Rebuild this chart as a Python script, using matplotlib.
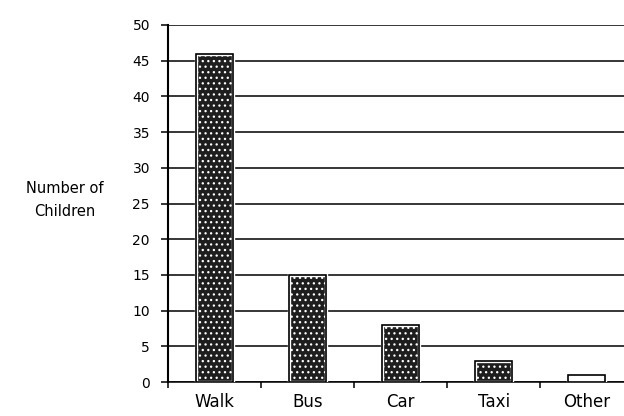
import matplotlib

matplotlib.use("Agg")
import matplotlib.pyplot as plt
import numpy as np

categories = ["Walk", "Bus", "Car", "Taxi", "Other"]
children = [46, 15, 8, 3, 1]
y_ticks = [0, 5, 10, 15, 20, 25, 30, 35, 40, 45, 50]

plt.rcParams["font.family"] = ["DejaVu Sans"]
plt.rcParams["hatch.linewidth"] = 0.9

fig = plt.figure(figsize=(6.24, 4.16), dpi=100)
ax = fig.add_axes([168 / 624, 34 / 416, 456 / 624, 357 / 416])

x = np.arange(len(categories))
# the tiny "Other" bar shows no speckle in the scan, just an empty box
faces = ["#1e1e1e"] * (len(categories) - 1) + ["white"]
# speckled fill with a thin white inner margin, then the black outline
ax.bar(x, children, width=0.4, color=faces, edgecolor="white",
       hatch="...", linewidth=2.4, zorder=3)
ax.bar(x, children, width=0.4, fill=False, edgecolor="black",
       linewidth=1.2, zorder=4)

ax.set_ylim(0, 50)
ax.set_xlim(-0.5, 4.4)
ax.set_yticks(y_ticks)
ax.set_yticklabels([str(v) for v in y_ticks], fontsize=10)
ax.yaxis.grid(True, color="black", linewidth=1.1)
ax.set_axisbelow(True)
ax.tick_params(axis="y", length=5, width=1.1, pad=8)

ax.set_xticks(x)
ax.set_xticklabels(categories, fontsize=12)
ax.set_xticks(np.arange(len(categories)) - 0.5, minor=True)
ax.tick_params(axis="x", which="major", length=0, pad=8)
ax.tick_params(axis="x", which="minor", length=4, width=1.1)

for s in ["top", "right"]:
    ax.spines[s].set_visible(False)
ax.spines["left"].set_linewidth(1.5)
ax.spines["bottom"].set_linewidth(1.1)

fig.text(65 / 624, 1 - 200 / 416, "Number of\nChildren", ha="center",
         va="center", fontsize=10.5, linespacing=1.6)

fig.savefig("out.png", dpi=100)
plt.close(fig)
